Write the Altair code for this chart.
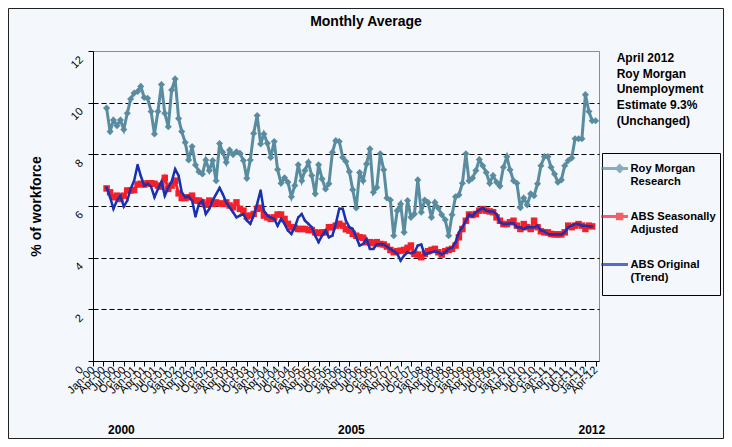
import altair as alt
import pandas as pd

FONT = "Liberation Sans"
BG = "#F4F8FC"

# ---- data (monthly, % of workforce) ----
SERIES = ["Roy Morgan Research", "ABS Seasonally Adjusted", "ABS Original (Trend)"]
COLORS = ["#5A8CA0", "#F2202B", "#1430B8"]

# month index 0 = Jan-2000; all three series start May-2000
roy_start = 4
roy_morgan = [
    9.79, 8.88, 9.33, 9.11, 9.33, 8.96, 9.59, 10.14,             # May-00 .. Dec-00
    10.37, 10.43, 10.63, 10.20, 10.17, 9.66, 8.79, 9.66, 10.70, 9.59, 9.07, 10.49,   # 2001
    10.92, 9.39, 8.88, 8.46, 7.78, 8.30, 7.59, 7.33, 7.24, 7.78, 7.37, 7.76,        # 2002
    6.98, 8.42, 8.08, 7.69, 8.17, 7.99, 8.10, 8.04, 7.76, 7.07, 7.78, 8.81,         # 2003
    9.50, 8.40, 8.79, 8.43, 7.88, 8.50, 7.41, 6.88, 7.09, 6.92, 6.36, 6.79,         # 2004
    7.60, 6.98, 7.37, 7.69, 7.18, 6.47, 7.60, 7.05, 6.66, 6.86, 8.08, 8.53,         # 2005
    8.50, 7.88, 7.72, 7.33, 6.63, 5.92, 7.30, 6.98, 7.63, 8.21, 6.53, 6.72,         # 2006
    8.02, 7.40, 6.31, 6.23, 4.85, 5.82, 6.08, 4.98, 6.21, 5.56, 5.69, 7.01,         # 2007
    5.76, 6.23, 6.14, 5.56, 6.14, 5.92, 5.66, 5.47, 4.85, 5.66, 6.36, 6.43,         # 2008
    6.88, 8.02, 6.98, 7.08, 7.37, 7.80, 7.56, 7.30, 6.88, 7.18, 6.92, 6.77,         # 2009
    7.50, 7.91, 7.40, 6.98, 6.88, 5.93, 6.31, 6.05, 6.47, 6.40, 6.86, 7.56,         # 2010
    7.91, 7.91, 7.50, 7.24, 6.92, 7.01, 7.56, 7.76, 7.86, 8.60, 8.60, 8.60,         # 2011
    10.31, 9.66, 9.30, 9.30,                                                         # 2012
]

abs_start = 4
abs_seasonally_adjusted = [
    6.68, 6.53, 6.34, 6.40, 6.27, 6.40, 6.60, 6.60,
    6.62, 6.83, 6.86, 6.83, 6.88, 6.88, 6.86, 6.79, 6.75, 7.09, 6.66, 6.79,
    6.98, 6.49, 6.31, 6.31, 6.34, 6.40, 6.21, 6.21, 6.14, 6.05, 6.21, 6.08,
    6.14, 6.10, 6.08, 6.14, 6.02, 5.95, 6.14, 5.89, 5.82, 5.59, 5.63, 5.69,
    5.89, 5.93, 5.63, 5.56, 5.50, 5.56, 5.67, 5.67, 5.50, 5.31, 5.18, 5.15,
    5.11, 5.11, 5.11, 5.07, 5.07, 4.98, 4.95, 4.98, 4.98, 5.18, 5.18, 5.24,
    5.31, 5.24, 5.10, 5.05, 4.92, 4.85, 4.79, 4.77, 4.60, 4.60, 4.56, 4.60,
    4.53, 4.51, 4.43, 4.30, 4.21, 4.25, 4.27, 4.30, 4.38, 4.47, 4.15, 4.12,
    4.02, 4.15, 4.25, 4.30, 4.34, 4.21, 4.12, 4.25, 4.30, 4.34, 4.47, 4.79,
    5.11, 5.43, 5.67, 5.65, 5.69, 5.82, 5.88, 5.82, 5.79, 5.76, 5.56, 5.43,
    5.30, 5.30, 5.37, 5.43, 5.24, 5.11, 5.30, 5.18, 5.11, 5.43, 5.18, 5.02,
    4.98, 4.98, 4.92, 4.90, 4.90, 4.90, 4.98, 5.24, 5.18, 5.24, 5.30, 5.24,
    5.11, 5.24, 5.21,
]

abs_original_trend = [
    6.72, 6.34, 5.89, 6.21, 6.40, 5.98, 6.21, 6.66,
    6.98, 7.59, 7.17, 6.79, 6.86, 6.75, 6.34, 6.66, 6.94, 6.40, 6.72, 6.94,
    7.43, 7.17, 6.53, 6.34, 6.37, 6.21, 5.59, 6.08, 6.21, 5.69, 5.89, 6.21,
    6.46, 6.70, 6.46, 6.14, 5.95, 5.76, 5.56, 5.63, 5.69, 5.44, 5.31, 5.63,
    6.08, 6.60, 5.82, 5.63, 5.56, 5.50, 5.24, 5.50, 5.31, 5.05, 4.92, 5.18,
    5.56, 5.69, 5.44, 5.31, 5.18, 4.85, 4.60, 4.85, 5.05, 4.79, 4.85, 5.31,
    5.89, 5.89, 5.44, 5.18, 5.11, 4.79, 4.47, 4.53, 4.72, 4.34, 4.34, 4.51,
    4.53, 4.51, 4.43, 4.34, 4.25, 4.15, 3.89, 4.08, 4.21, 4.17, 4.21, 4.47,
    4.51, 4.12, 4.17, 4.21, 4.25, 4.21, 4.12, 4.21, 4.34, 4.38, 4.60, 4.98,
    5.18, 5.43, 5.67, 5.60, 5.76, 5.85, 5.92, 5.82, 5.79, 5.79, 5.69, 5.37,
    5.30, 5.30, 5.33, 5.33, 5.18, 5.18, 5.11, 5.18, 5.18, 5.18, 5.24, 5.05,
    5.02, 4.92, 4.90, 4.90, 4.90, 4.90, 4.98, 5.18, 5.24, 5.30, 5.30, 5.24,
    5.24, 5.21, 5.21,
]

year_labels = ["2000", "2005", "2012"]
year_label_dates = ["2000-09-10", "2006-04-19", "2012-02-27"]

chart_title = "Monthly Average"
annotation = "April 2012\nRoy Morgan\nUnemployment\nEstimate 9.3%\n(Unchanged)"


def month_date(i):
    return f"{2000 + i // 12}-{i % 12 + 1:02d}-01"


def ms(y, m):
    return int(pd.Timestamp(year=y, month=m, day=1, tz="UTC").timestamp() * 1000)


def series_df(name, start, values):
    return pd.DataFrame({
        "date": [month_date(start + k) for k in range(len(values))],
        "value": values,
        "series": name,
    })


df_rm = series_df(SERIES[0], roy_start, roy_morgan)
df_sa = series_df(SERIES[1], abs_start, abs_seasonally_adjusted)
df_tr = series_df(SERIES[2], abs_start, abs_original_trend)
df_all = pd.concat([df_rm, df_sa, df_tr], ignore_index=True)

quarter_ticks = [ms(2000 + k // 4, 1 + 3 * (k % 4)) for k in range(50)]

x_enc = alt.X(
    "date:T",
    scale=alt.Scale(type="utc", domain=[ms(2000, 1), ms(2012, 5)]),
    axis=alt.Axis(
        title=None, values=quarter_ticks, format="%b-%y", grid=False,
        labelAngle=-45, labelAlign="right", labelBaseline="middle",
        labelFont=FONT, labelFontSize=11, labelColor="black",
        labelOverlap=False, labelFlush=False, labelBound=False, labelPadding=2,
        domainColor="black", domainWidth=1, tickColor="black", tickSize=5,
    ),
)
y_enc = alt.Y(
    "value:Q",
    scale=alt.Scale(domain=[0, 12], nice=False),
    axis=alt.Axis(
        title="% of workforce", titleFont=FONT, titleFontSize=14, titleFontWeight="bold",
        titleColor="black", titleX=-57, titleY=155, titleBaseline="middle", titleAlign="center",
        values=[0, 2, 4, 6, 8, 10, 12],
        labelAngle=-45, labelAlign="right", labelBaseline="top", labelOffset=2.5,
        labelPadding=11, labelFont=FONT, labelFontSize=11, labelColor="black",
        labelOverlap=False, labelFlush=False, labelBound=False,
        domainColor="black", domainWidth=1, tickColor="black", tickSize=5,
        grid=True, gridColor="black", gridDash=[5, 3], gridWidth=1,
        gridOpacity={"condition": {"test": "datum.value === 0 || datum.value === 12", "value": 0}, "value": 1},
    ),
)


def line_layer(df, color, width):
    return alt.Chart(df).mark_line(color=color, strokeWidth=width).encode(x=x_enc, y=y_enc)


def point_layer(df, color, shape, size):
    return alt.Chart(df).mark_point(color=color, shape=shape, size=size, filled=True, opacity=1).encode(x=x_enc, y=y_enc)


# legend symbols: a line with the series marker (unit = 10px); trailing moveTo pads the entry
dy = 0.0
pad = "M0,2.0"
legend_paths = [
    f"M-1.62,{dy}L1.05,{dy}M0.22,{dy-0.28}L0.5,{dy}L0.22,{dy+0.28}L-0.06,{dy}Z{pad}",
    f"M-1.62,{dy}L1.05,{dy}M0.0,{dy-0.22}L0.44,{dy-0.22}L0.44,{dy+0.22}L0.0,{dy+0.22}Z{pad}",
    f"M-1.62,{dy}L1.05,{dy}{pad}",
]
label_expr = ("datum.label == 'Roy Morgan Research' ? ['Roy Morgan', 'Research'] : "
              "datum.label == 'ABS Seasonally Adjusted' ? ['ABS Seasonally', 'Adjusted'] : "
              "['ABS Original', '(Trend)']")
legend = alt.Legend(
    title=None, orient="none", legendX=509, legendY=102, direction="vertical",
    padding=4, strokeColor="black", fillColor=BG,
    labelFont=FONT, labelFontSize=11.2, labelFontWeight="bold", labelColor="black",
    labelExpr=label_expr, labelLimit=200, labelOffset=1.5,
    symbolSize=400, symbolStrokeWidth=3, rowPadding=10,
)
legend_layer = alt.Chart(df_all).transform_filter("false").mark_point(
    filled=False, size=400, strokeWidth=3
).encode(
    x=x_enc, y=y_enc,
    color=alt.Color("series:N", scale=alt.Scale(domain=SERIES, range=COLORS), legend=legend),
    shape=alt.Shape("series:N", scale=alt.Scale(domain=SERIES, range=legend_paths), legend=legend),
)

years = alt.Chart(pd.DataFrame({"date": year_label_dates, "label": year_labels})).mark_text(
    font=FONT, fontSize=12, fontWeight="bold", color="black", baseline="middle", align="center"
).encode(x=x_enc, y=alt.value(379), text="label:N")

title_mark = alt.Chart(pd.DataFrame({"t": [chart_title]})).mark_text(
    font=FONT, fontSize=14, fontWeight="bold", color="black", align="center", baseline="middle"
).encode(x=alt.value(273), y=alt.value(-29.5), text="t:N")

note = alt.Chart(pd.DataFrame({"t": [annotation]})).mark_text(
    font=FONT, fontSize=12, fontWeight="bold", color="black", align="left", baseline="top",
    lineBreak="\n", lineHeight=15.6
).encode(x=alt.value(523.7), y=alt.value(2.3), text="t:N")

frame = alt.Chart(pd.DataFrame({"a": [0]})).mark_rect(
    fillOpacity=0, stroke="#222222", strokeWidth=1
).encode(x=alt.value(-84.5), x2=alt.value(630.5), y=alt.value(-42.5), y2=alt.value(387.5))

chart = alt.layer(
    line_layer(df_rm, COLORS[0], 3),
    point_layer(df_rm, COLORS[0], "diamond", 50),
    line_layer(df_sa, COLORS[1], 3),
    point_layer(df_sa, COLORS[1], "square", 42),
    line_layer(df_tr, COLORS[2], 2.5),
    point_layer(df_tr, "#33308F", "circle", 6),
    legend_layer,
    years,
    title_mark,
    note,
    frame,
).properties(
    width=506, height=310,
    autosize=alt.AutoSizeParams(type="none"),
    padding={"left": 85, "top": 43, "right": 125, "bottom": 78},
    background=BG,
).configure_view(stroke="#8C8C8C", strokeWidth=1, fill=BG)

chart.save("out.html", embed_options={"renderer": "svg", "actions": False})
